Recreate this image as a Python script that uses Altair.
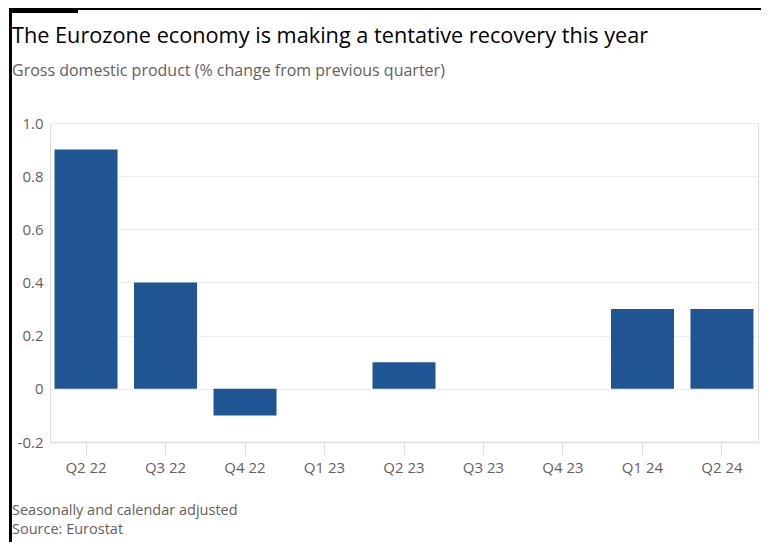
import altair as alt
import pandas as pd

quarters = ["Q2 22", "Q3 22", "Q4 22", "Q1 23", "Q2 23", "Q3 23", "Q4 23", "Q1 24", "Q2 24"]
gdp = [0.9, 0.4, -0.1, 0.0, 0.1, 0.0, 0.0, 0.3, 0.3]
y_ticks = [-0.2, 0, 0.2, 0.4, 0.6, 0.8, 1.0]

title = "The Eurozone economy is making a tentative recovery this year"
subtitle = "Gross domestic product (% change from previous quarter)"
notes = ["Seasonally and calendar adjusted", "Source: Eurostat"]

FONT = "Open Sans"
W, H = 708, 319
PL, PT = 42, 115

df = pd.DataFrame({"q": quarters, "v": gdp})
one = pd.DataFrame({"a": [0]})

bars = alt.Chart(df).mark_bar(color="#1f5592").encode(
    x=alt.X("q:N", sort=quarters, title=None,
            scale=alt.Scale(paddingInner=0.2075, paddingOuter=0.057),
            axis=alt.Axis(labelAngle=0, ticks=True, tickSize=13, tickColor="#dedede",
                          tickWidth=1, domain=True, domainColor="#dcdcdc", domainWidth=1.5,
                          labelPadding=5, labelFont=FONT, labelFontSize=15,
                          labelColor="#66605c", grid=False)),
    y=alt.Y("v:Q", title=None,
            scale=alt.Scale(domain=[-0.2, 1.0], nice=False, zero=False),
            axis=alt.Axis(values=y_ticks, domain=False, ticks=False, labelPadding=7,
                          gridColor="#ececec", gridWidth=1,
                          labelFont=FONT, labelFontSize=15, labelColor="#66605c",
                          labelExpr="datum.value == 0 ? '0' : replace(format(datum.value, '.1f'), '\u2212', '-')")),
)

def rect(x, x2, y, y2):
    return alt.Chart(one).mark_rect(color="black").encode(
        x=alt.value(x), x2=alt.value(x2), y=alt.value(y), y2=alt.value(y2))

left_line = rect(-41, -38, -115, 440)
top_line = rect(-41, 716, -115, -113)
top_bar = rect(-40, 28, -114, -110)

def text(s, x, y, size, color, weight="normal"):
    return alt.Chart(one).mark_text(text=s, align="left", baseline="alphabetic",
                                    font=FONT, fontSize=size, color=color,
                                    fontWeight=weight).encode(
        x=alt.value(x), y=alt.value(y))

t1 = text(title, -38, 43 - 8 - PT, 21.7, "#000000")
t2 = text(subtitle, -38, 76 - 8 - PT, 16, "#66605c")
f1 = text(notes[0], -38, 515 - 8 - PT, 14.5, "#66605c")
f2 = text(notes[1], -38, 534 - 8 - PT, 14.5, "#66605c")

chart = alt.layer(bars, left_line, top_line, top_bar, t1, t2, f1, f2).properties(
    width=W, height=H,
    autosize=alt.AutoSizeParams(type="none"),
    padding={"left": PL, "top": PT, "right": 3, "bottom": 100},
).configure_view(stroke=None).configure(background="white")

chart.save("out.html", embed_options={"renderer": "svg", "actions": False})
